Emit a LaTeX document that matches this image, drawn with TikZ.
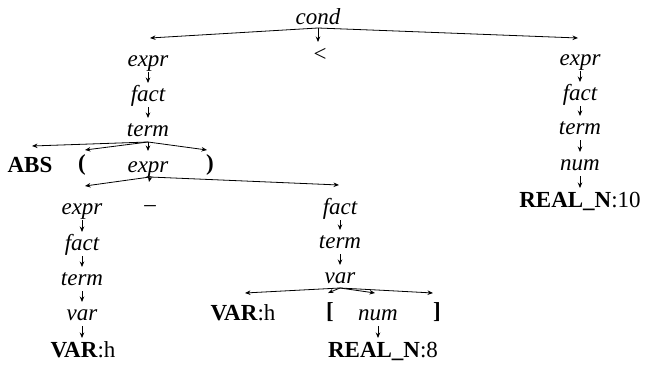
\documentclass[tikz,border=0pt]{standalone}
\usepackage{fontspec}
\setmainfont{Liberation Serif}
\usetikzlibrary{arrows.meta,calc}
\begin{document}
\begin{tikzpicture}[x=1pt,y=-1pt,
  lab/.style={anchor=base,inner sep=0pt,font=\fontsize{23}{27}\selectfont},
  nt/.style={lab,font=\fontsize{23}{27}\selectfont\itshape},
  arr/.style={line width=0.8pt,-{Stealth[length=5.5pt,width=4.5pt]}}]
\useasboundingbox (0,0) rectangle (647,372);
% nodes
\node[nt] (cond) at (318,24) {cond};
\node[lab] (lt) at (320,61) {<};
\node[nt] (e1) at (148,66) {expr};
\node[nt] (f1) at (148,101) {fact};
\node[nt] (t1) at (148,136) {term};
\node[lab] (abs) at (30,172) {\textbf{ABS}};
\node[lab] (lp) at (82,170) {\textbf{(}};
\node[nt] (e2) at (148,172) {expr};
\node[lab] (rp) at (210,170) {\textbf{)}};
\node[nt] (e3) at (82,214) {expr};
\node[nt] (f3) at (82,250) {fact};
\node[nt] (t3) at (82,285) {term};
\node[nt] (v3) at (82,320) {var};
\node[lab] (varh) at (83,357) {\textbf{VAR}:h};
\node[lab] (dash) at (150,211) {–};
\node[nt] (f2) at (340,214) {fact};
\node[nt] (t2) at (340,248) {term};
\node[nt] (v2) at (340,283) {var};
\node[lab] (varh2) at (243,320) {\textbf{VAR}:h};
\node[lab] (lb) at (330,318) {\textbf{[}};
\node[nt] (num2) at (378,320) {num};
\node[lab] (rb) at (437,318) {\textbf{]}};
\node[lab] (real8) at (383,357) {\textbf{REAL\_N}:8};
\node[nt] (e4) at (580,65) {expr};
\node[nt] (f4) at (580,100) {fact};
\node[nt] (t4) at (580,134) {term};
\node[nt] (n4) at (580,170) {num};
\node[lab] (real10) at (580,207) {\textbf{REAL\_N}:10};
% cond fan
\draw[arr] ($(cond.base)+(0,4)$) -- ($(e1.base)+(2,-28)$);
\draw[arr] ($(cond.base)+(0,4)$) -- ($(lt.base)+(-2,-19)$);
\draw[arr] ($(cond.base)+(0,4)$) -- ($(e4.base)+(-2,-27)$);
% left top chain
\draw[arr] ($(e1.base)+(0,6)$) -- ($(f1.base)+(0,-18)$);
\draw[arr] ($(f1.base)+(0,6)$) -- ($(t1.base)+(0,-18)$);
% term fan
\draw[arr] ($(t1.base)+(0,6)$) -- ($(abs.base)+(2,-26)$);
\draw[arr] ($(t1.base)+(0,6)$) -- ($(lp.base)+(3,-20)$);
\draw[arr] ($(t1.base)+(0,6)$) -- ($(e2.base)+(0,-21)$);
\draw[arr] ($(t1.base)+(0,6)$) -- ($(rp.base)+(-3,-20)$);
% expr fan
\draw[arr] ($(e2.base)+(2,5)$) -- ($(e3.base)+(3,-28)$);
\draw[arr] ($(e2.base)+(2,5)$) -- ($(dash.base)+(-1,-29)$);
\draw[arr] ($(e2.base)+(2,5)$) -- ($(f2.base)+(-1,-29)$);
% left chain
\draw[arr] ($(e3.base)+(0,6)$) -- ($(f3.base)+(0,-18)$);
\draw[arr] ($(f3.base)+(0,6)$) -- ($(t3.base)+(0,-18)$);
\draw[arr] ($(t3.base)+(0,6)$) -- ($(v3.base)+(0,-18)$);
\draw[arr] ($(v3.base)+(0,6)$) -- ($(v3.base |- varh.base)+(0,-19)$);
% middle chain
\draw[arr] ($(f2.base)+(0,6)$) -- ($(t2.base)+(0,-18)$);
\draw[arr] ($(t2.base)+(0,6)$) -- ($(v2.base)+(0,-18)$);
% var fan
\draw[arr] ($(v2.base)+(0,5)$) -- ($(varh2.base)+(2,-27)$);
\draw[arr] ($(v2.base)+(0,5)$) -- ($(lb.base)+(-2,-25)$);
\draw[arr] ($(v2.base)+(0,5)$) -- ($(num2.base)+(-3,-27)$);
\draw[arr] ($(v2.base)+(0,5)$) -- ($(rb.base)+(-4,-25)$);
\draw[arr] ($(num2.base)+(0,6)$) -- ($(num2.base |- real8.base)+(0,-19)$);
% right chain
\draw[arr] ($(e4.base)+(0,6)$) -- ($(f4.base)+(0,-18)$);
\draw[arr] ($(f4.base)+(0,6)$) -- ($(t4.base)+(0,-18)$);
\draw[arr] ($(t4.base)+(0,6)$) -- ($(n4.base)+(0,-18)$);
\draw[arr] ($(n4.base)+(0,6)$) -- ($(n4.base |- real10.base)+(0,-19)$);
\end{tikzpicture}
\end{document}
